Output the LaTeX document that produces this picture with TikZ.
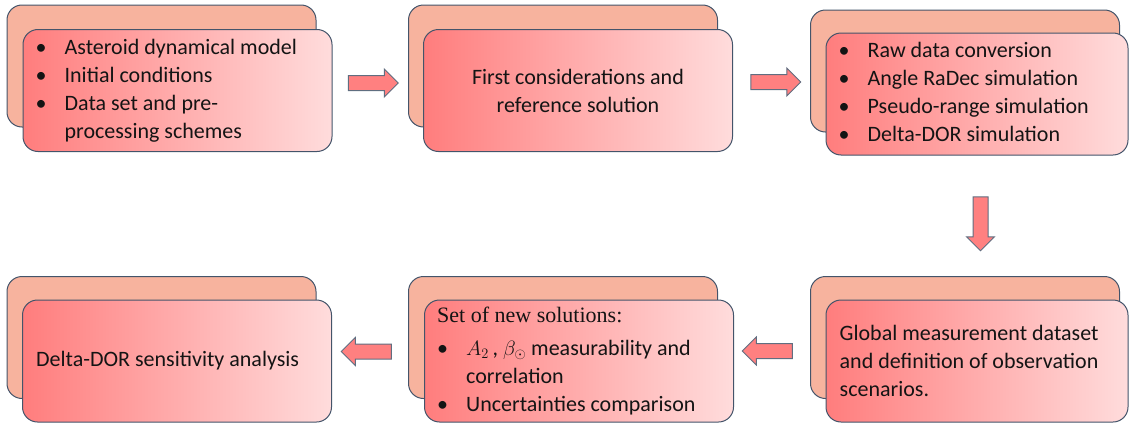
\documentclass[tikz,border=0pt]{standalone}
\usepackage{fontspec}
\setmainfont{Carlito}
\newfontfamily\cambriafont{Liberation Serif}
\usetikzlibrary{shapes.arrows}
\definecolor{edge}{RGB}{68,84,106}
\definecolor{backfill}{RGB}{247,179,158}
\definecolor{leftred}{RGB}{255,125,125}
\definecolor{rightpink}{RGB}{255,220,220}
\definecolor{arrowred}{RGB}{255,128,128}
\definecolor{ink}{RGB}{20,20,20}

\begin{document}
\begin{tikzpicture}[x=1pt,y=-1pt,
  backbox/.style={draw=edge,line width=1pt,fill=backfill,rounded corners=15pt,
    minimum width=309pt,minimum height=122pt,inner sep=0pt},
  frontbox/.style={draw=edge,line width=1pt,left color=leftred,right color=rightpink,
    rounded corners=15pt,minimum width=309pt,minimum height=122pt,inner sep=0pt},
  txt/.style={anchor=west,inner sep=0pt,text=ink,font=\fontsize{22}{28}\selectfont},
  blockarrow/.style={single arrow,draw=edge!85,line width=1pt,fill=arrowred,
    minimum height=50pt,minimum width=27pt,single arrow head extend=6.5pt,
    inner xsep=0pt,inner ysep=7pt}]
\useasboundingbox (0,0) rectangle (1130,423);

% top row
\node[backbox] (k1) at (161.5,66) {};
\node[frontbox] (f1) at (177.5,90.5) {};
\node[txt] (t1) at ([xshift=13pt]f1.west) {\begin{tabular}{@{}l@{\hspace{18pt}}l@{}}
\textbullet & Asteroid dynamical model\\
\textbullet & Initial conditions\\
\textbullet & Data set and pre-\\
 & processing schemes
\end{tabular}};

\node[backbox] (k2) at (563,66) {};
\node[frontbox] (f2) at (578,90.5) {};
\node[txt,anchor=center,align=center] (t2) at (f2) {First considerations and\\reference solution};

\node[backbox] (k3) at (965,71) {};
\node[frontbox,minimum width=302pt] (f3) at (977,94) {};
\node[txt] (t3) at ([xshift=13pt]f3.west) {\begin{tabular}{@{}l@{\hspace{18pt}}l@{}}
\textbullet & Raw data conversion\\
\textbullet & Angle RaDec simulation\\
\textbullet & Pseudo-range simulation\\
\textbullet & Delta-DOR simulation
\end{tabular}};

% bottom row
\node[backbox] (k4) at (965,337.5) {};
\node[frontbox,minimum width=302pt] (f4) at (977,361) {};
\node[txt,align=left] (t4) at ([xshift=14pt]f4.west) {Global measurement dataset\\and definition of observation\\scenarios.};

\node[backbox] (k5) at (563,337.5) {};
\node[frontbox] (f5) at (579,361) {};
\node[txt] (t5) at ([xshift=13pt]f5.west) {\begin{tabular}{@{}l@{\hspace{18pt}}l@{}}
\multicolumn{2}{@{}l@{}}{\cambriafont Set of new solutions:}\\[5pt]
\textbullet & $A_2$\,, $\beta_{\odot}$ measurability and\\
 & correlation\\
\textbullet & Uncertainties comparison
\end{tabular}};

\node[backbox] (k6) at (161.5,337.5) {};
\node[frontbox] (f6) at (177,361) {};
\node[txt] (t6) at ([xshift=14pt]f6.west) {Delta-DOR sensitivity analysis};

% arrows
\node[blockarrow] (a1) at (369.5,83) {};
\node[blockarrow] (a2) at (772,82) {};
\node[blockarrow,minimum height=54pt,inner xsep=7pt,inner ysep=0pt,
  shape border rotate=270] (a3) at (980.5,220) {};
\node[blockarrow,shape border rotate=180] (a4) at (771,351) {};
\node[blockarrow,shape border rotate=180] (a5) at (370,351.5) {};
\end{tikzpicture}
\end{document}
